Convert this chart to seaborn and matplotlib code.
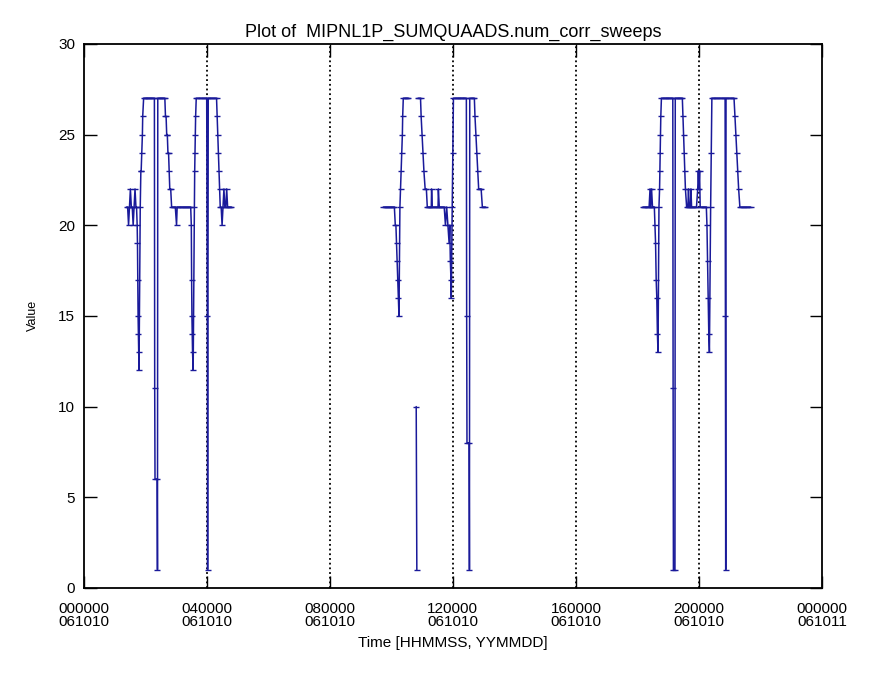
import numpy as np
import pandas as pd
import matplotlib
matplotlib.use('Agg')
import matplotlib.pyplot as plt
import seaborn as sns

# Data (time in hours of 061010, value = num_corr_sweeps)
hours_1 = [1.40, 1.43, 1.46, 1.49, 1.52, 1.55, 1.58, 1.61, 1.64, 1.67, 1.70, 1.72,
           1.74, 1.75, 1.76, 1.77, 1.78, 1.79, 1.80,
           1.84, 1.86, 1.87, 1.89, 1.91, 1.92, 1.95,
           1.98, 2.02, 2.06, 2.10, 2.14, 2.18, 2.22, 2.26, 2.30,
           2.31, 2.32, 2.39, 2.40, 2.41,
           2.44, 2.48, 2.52, 2.56, 2.60, 2.64,
           2.66, 2.68, 2.70, 2.72, 2.74, 2.76, 2.78, 2.80, 2.83, 2.86,
           2.90, 2.94, 2.98, 3.02, 3.04, 3.08, 3.12, 3.16, 3.20, 3.24, 3.28, 3.32,
           3.36, 3.40, 3.44, 3.48,
           3.50, 3.51, 3.52, 3.53, 3.54, 3.56,
           3.60, 3.61, 3.62, 3.63, 3.64, 3.66,
           3.70, 3.75, 3.80, 3.85, 3.90, 3.95, 4.00,
           4.02, 4.03, 4.05,
           4.08, 4.13, 4.18, 4.23, 4.28, 4.32,
           4.34, 4.36, 4.38, 4.40, 4.42, 4.44,
           4.47, 4.50, 4.53, 4.56, 4.59, 4.62, 4.65, 4.68, 4.72, 4.76, 4.80]
vals_1 = [21, 21, 20, 21, 22, 21, 21, 20, 21, 22, 21, 21,
          20, 19, 17, 15, 14, 13, 12,
          21, 23, 23, 24, 25, 26, 27,
          27, 27, 27, 27, 27, 27, 27, 27, 27,
          11, 6, 6, 1, 27,
          27, 27, 27, 27, 27, 27,
          26, 26, 25, 25, 24, 24, 23, 22, 22, 21,
          21, 21, 21, 20, 21, 21, 21, 21, 21, 21, 21, 21,
          21, 21, 21, 21,
          20, 17, 15, 14, 13, 12,
          21, 23, 24, 25, 26, 27,
          27, 27, 27, 27, 27, 27, 27,
          15, 1, 27,
          27, 27, 27, 27, 27, 27,
          26, 25, 24, 23, 22, 21,
          21, 20, 21, 22, 21, 21, 22, 21, 21, 21, 21]

hours_2a = [9.74, 9.78, 9.82, 9.86, 9.90, 9.94, 9.98, 10.02, 10.06, 10.10,
            10.13, 10.15, 10.17, 10.19, 10.21, 10.23, 10.25,
            10.28, 10.30, 10.32, 10.34, 10.36, 10.37, 10.39,
            10.43, 10.47, 10.51, 10.55]
vals_2a = [21, 21, 21, 21, 21, 21, 21, 21, 21, 21,
           20, 20, 19, 18, 17, 16, 15,
           21, 22, 23, 24, 25, 26, 27,
           27, 27, 27, 27]

hours_2b = [10.81, 10.83]
vals_2b = [10, 1]

hours_2c = [10.87, 10.91, 10.95,
            10.97, 11.00, 11.03, 11.06, 11.10, 11.14, 11.17,
            11.20, 11.24, 11.26, 11.30, 11.31, 11.33, 11.38, 11.44, 11.48, 11.52,
            11.53, 11.56, 11.60, 11.64, 11.68, 11.72, 11.76, 11.80, 11.84, 11.88,
            11.90, 11.92, 11.94, 11.95,
            11.98, 12.00, 12.02,
            12.06, 12.10, 12.14, 12.18, 12.22, 12.26, 12.30, 12.34, 12.38, 12.44,
            12.45, 12.46, 12.53, 12.54, 12.55,
            12.60, 12.65, 12.70,
            12.72, 12.75, 12.78, 12.81, 12.84, 12.88, 12.92, 12.96, 13.00, 13.06]
vals_2c = [27, 27, 27,
           26, 25, 24, 23, 22, 22, 21,
           21, 21, 21, 21, 22, 21, 21, 21, 21, 21,
           22, 21, 21, 21, 21, 21, 20, 21, 20, 19,
           20, 18, 17, 16,
           21, 24, 27,
           27, 27, 27, 27, 27, 27, 27, 27, 27, 27,
           15, 8, 8, 1, 27,
           27, 27, 27,
           26, 25, 24, 23, 22, 22, 22, 21, 21, 21]

hours_3 = [18.18, 18.22, 18.26, 18.30, 18.34, 18.38, 18.41, 18.43, 18.46, 18.49, 18.52, 18.55,
           18.57, 18.59, 18.61, 18.63, 18.65, 18.67,
           18.70, 18.72, 18.73, 18.74, 18.75, 18.76, 18.78,
           18.82, 18.86, 18.90, 18.94, 18.98, 19.02, 19.06, 19.10, 19.15,
           19.16, 19.17, 19.22, 19.23,
           19.26, 19.30, 19.34, 19.38, 19.42, 19.46,
           19.48, 19.50, 19.52, 19.54, 19.56, 19.60,
           19.64, 19.66, 19.68, 19.72, 19.74, 19.76, 19.80, 19.84, 19.88, 19.92,
           19.96, 19.98, 20.00, 20.02, 20.04, 20.08, 20.12, 20.16, 20.20, 20.24,
           20.26, 20.28, 20.30, 20.32, 20.34,
           20.38, 20.40, 20.42,
           20.46, 20.50, 20.55, 20.60, 20.65, 20.70, 20.75, 20.80, 20.85,
           20.86, 20.87, 20.88,
           20.96, 21.00, 21.05, 21.10, 21.14,
           21.17, 21.20, 21.23, 21.26, 21.29, 21.33,
           21.37, 21.42, 21.47, 21.52, 21.57, 21.62, 21.68]
vals_3 = [21, 21, 21, 21, 21, 21, 22, 21, 22, 21, 21, 21,
          20, 19, 17, 16, 14, 13,
          21, 22, 23, 24, 25, 26, 27,
          27, 27, 27, 27, 27, 27, 27, 27, 27,
          11, 1, 1, 27,
          27, 27, 27, 27, 27, 27,
          26, 25, 24, 23, 22, 21,
          21, 22, 21, 21, 22, 21, 21, 21, 21, 21,
          22, 23, 22, 23, 21, 21, 21, 21, 21, 21,
          20, 18, 16, 14, 13,
          21, 24, 27,
          27, 27, 27, 27, 27, 27, 27, 27, 27,
          15, 1, 27,
          27, 27, 27, 27, 27,
          26, 25, 24, 23, 22, 21,
          21, 21, 21, 21, 21, 21, 21]

tick_hours = [0, 4, 8, 12, 16, 20, 24]
tick_labels = ['000000\n061010', '040000\n061010', '080000\n061010', '120000\n061010',
               '160000\n061010', '200000\n061010', '000000\n061011']
grid_hours = [4, 8, 12, 16, 20]

segments = [(hours_1, vals_1), (hours_2a, vals_2a), (hours_2b, vals_2b),
            (hours_2c, vals_2c), (hours_3, vals_3)]
frames = []
for i, (h, v) in enumerate(segments):
    frames.append(pd.DataFrame({'hour': h, 'value': v, 'segment': i}))
df = pd.concat(frames, ignore_index=True)

sns.set_style('ticks')
plt.rcParams['font.family'] = ['Liberation Sans', 'DejaVu Sans']

fig = plt.figure(figsize=(8.73, 6.75), dpi=100)
ax = fig.add_axes([0.0958, 0.129, 0.8458, 0.806])

for gh in grid_hours:
    ax.axvline(gh, color='black', linestyle=(0, (1, 1.6)), linewidth=1.3, zorder=1)

line_color = '#1a1a9a'
sns.lineplot(data=df, x='hour', y='value', units='segment', estimator=None,
             color=line_color, linewidth=1.1, marker='_', markersize=4,
             markeredgewidth=1.0, markeredgecolor=line_color,
             sort=False, legend=False, ax=ax, zorder=2)

ax.set_xlim(0, 24)
ax.set_ylim(0, 30)
ax.set_xticks(tick_hours)
ax.set_xticklabels(tick_labels, fontsize=11, linespacing=0.95)
ax.set_yticks([0, 5, 10, 15, 20, 25, 30])
ax.set_yticklabels(['0', '5', '10', '15', '20', '25', '30'], fontsize=11)
ax.tick_params(direction='in', length=9, width=1, top=True, right=True, pad=6,
               colors='black', labelcolor='black')
ax.tick_params(axis='x', pad=10)
for s in ax.spines.values():
    s.set_linewidth(1.3)
    s.set_color('black')

ax.set_xlabel('Time [HHMMSS, YYMMDD]', fontsize=11, labelpad=5, color='black')
ax.set_ylabel('Value', fontsize=9, labelpad=14, color='black')
ax.set_title('Plot of  MIPNL1P_SUMQUAADS.num_corr_sweeps', fontsize=13, pad=5,
             color='black')

fig.savefig('out.png', dpi=100)
